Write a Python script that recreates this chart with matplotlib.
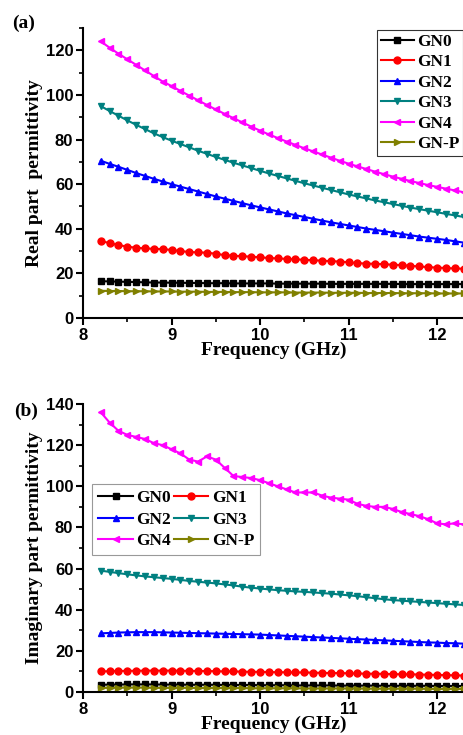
import matplotlib.pyplot as plt
import numpy as np
from matplotlib.ticker import MultipleLocator

# frequency sample points (GHz)
freq = np.round(np.arange(8.2, 12.35, 0.1), 1)

labels = ["GN0", "GN1", "GN2", "GN3", "GN4", "GN-P"]
colors = ["black", "red", "blue", "#008080", "#ff00ff", "#808000"]
markers = ["s", "o", "^", "v", "<", ">"]

# (a) real part permittivity
real_gn0 = [16.5, 16.4, 16.3, 16.2, 16.1, 16.0, 15.9, 15.9, 15.8,
            15.8, 15.7, 15.7, 15.6, 15.6, 15.6, 15.5, 15.5, 15.5, 15.5,
            15.5, 15.4, 15.4, 15.4, 15.4, 15.4, 15.4, 15.3, 15.3, 15.3,
            15.3, 15.3, 15.3, 15.3, 15.3, 15.2, 15.2, 15.2, 15.2, 15.2,
            15.2, 15.2, 15.2]
real_gn1 = [34.5, 33.6, 32.7, 32.0, 31.5, 31.2, 31.0, 30.9, 30.5,
            30.0, 29.6, 29.4, 29.3, 28.8, 28.2, 27.9, 27.7, 27.5, 27.2,
            26.9, 26.7, 26.5, 26.3, 26.1, 25.9, 25.7, 25.5, 25.3, 25.0,
            24.6, 24.4, 24.3, 24.1, 23.9, 23.7, 23.4, 23.1, 22.8, 22.6,
            22.4, 22.2, 22.1]
real_gn2 = [70.5, 69.1, 67.8, 66.4, 65.0, 63.7, 62.4, 61.2, 60.0,
            58.9, 57.8, 56.7, 55.6, 54.5, 53.5, 52.5, 51.5, 50.5, 49.6,
            48.7, 47.8, 46.9, 46.1, 45.3, 44.5, 43.7, 42.9, 42.2, 41.5,
            40.8, 40.1, 39.5, 38.9, 38.3, 37.7, 37.1, 36.5, 36.0, 35.5,
            35.0, 34.4, 33.8]
real_gn3 = [95.0, 92.8, 90.7, 88.6, 86.6, 84.7, 82.8, 81.1, 79.5,
            78.0, 76.5, 75.0, 73.6, 72.2, 70.9, 69.6, 68.4, 67.2, 66.0,
            64.8, 63.7, 62.6, 61.5, 60.4, 59.4, 58.4, 57.4, 56.4, 55.4,
            54.5, 53.6, 52.7, 51.9, 51.1, 50.3, 49.5, 48.8, 48.1, 47.4,
            46.7, 46.0, 45.3]
real_gn4 = [124.0, 121.2, 118.5, 116.0, 113.5, 111.0, 108.5, 106.0, 104.0,
            101.8, 99.7, 97.6, 95.5, 93.5, 91.5, 89.6, 87.7, 85.8, 84.0,
            82.3, 80.7, 79.1, 77.6, 76.1, 74.7, 73.3, 71.9, 70.5, 69.2,
            68.0, 66.8, 65.6, 64.5, 63.4, 62.4, 61.4, 60.5, 59.6, 58.8,
            58.0, 57.2, 56.4]
real_gnp = [12.2, 12.1, 12.1, 12.0, 12.0, 12.0, 11.9, 11.9, 11.9,
            11.8, 11.8, 11.8, 11.7, 11.7, 11.7, 11.6, 11.6, 11.6, 11.5,
            11.5, 11.5, 11.5, 11.4, 11.4, 11.4, 11.4, 11.3, 11.3, 11.3,
            11.3, 11.2, 11.2, 11.2, 11.2, 11.1, 11.1, 11.1, 11.1, 11.0,
            11.0, 11.0, 11.0]

# (b) imaginary part permittivity
imag_gn0 = [3.5, 3.6, 3.6, 3.7, 3.7, 3.7, 3.7, 3.6, 3.6,
            3.6, 3.5, 3.5, 3.5, 3.5, 3.4, 3.4, 3.4, 3.4, 3.3,
            3.3, 3.3, 3.3, 3.2, 3.2, 3.2, 3.2, 3.2, 3.1, 3.1,
            3.1, 3.1, 3.1, 3.0, 3.0, 3.0, 3.0, 3.0, 3.0, 2.9,
            2.9, 2.9, 2.9]
imag_gn1 = [10.0, 10.1, 10.2, 10.3, 10.3, 10.4, 10.4, 10.4, 10.4,
            10.3, 10.3, 10.2, 10.2, 10.1, 10.0, 10.0, 9.9, 9.8, 9.8,
            9.7, 9.6, 9.6, 9.5, 9.5, 9.4, 9.3, 9.2, 9.2, 9.1,
            9.0, 8.9, 8.9, 8.8, 8.7, 8.6, 8.6, 8.5, 8.4, 8.3,
            8.2, 8.1, 8.0]
imag_gn2 = [28.5, 28.7, 28.9, 29.0, 29.1, 29.1, 29.1, 29.0, 28.9,
            28.8, 28.7, 28.6, 28.5, 28.4, 28.3, 28.2, 28.1, 28.0, 27.9,
            27.7, 27.5, 27.3, 27.1, 26.9, 26.7, 26.5, 26.3, 26.1, 25.9,
            25.7, 25.5, 25.3, 25.1, 24.9, 24.7, 24.5, 24.3, 24.1, 24.0,
            23.8, 23.7, 23.5]
imag_gn3 = [59.0, 58.4, 57.8, 57.2, 56.7, 56.2, 55.8, 55.4, 55.0,
            54.5, 54.0, 53.6, 53.2, 52.8, 52.3, 51.8, 51.2, 50.7, 50.3,
            49.9, 49.5, 49.2, 48.9, 48.7, 48.4, 48.1, 47.8, 47.4, 47.0,
            46.6, 46.1, 45.6, 45.1, 44.7, 44.4, 44.1, 43.8, 43.5, 43.2,
            42.9, 42.6, 42.3]
imag_gn4 = [136.0, 131.0, 127.0, 125.0, 124.0, 123.0, 121.0, 120.0, 118.0,
            116.0, 113.0, 112.0, 114.5, 113.0, 109.0, 105.0, 104.5, 104.0, 103.0,
            101.5, 100.0, 98.5, 97.0, 97.0, 97.0, 95.5, 94.5, 94.0, 93.5,
            91.5, 90.5, 90.0, 90.0, 89.0, 87.5, 86.5, 85.5, 84.0, 82.0,
            81.5, 82.0, 81.5]
imag_gnp = [2.0, 2.0, 2.1, 2.1, 2.1, 2.1, 2.0, 2.0, 2.0,
            2.0, 2.0, 1.9, 1.9, 1.9, 1.9, 1.9, 1.9, 1.8, 1.8,
            1.8, 1.8, 1.8, 1.8, 1.7, 1.7, 1.7, 1.7, 1.7, 1.7,
            1.7, 1.6, 1.6, 1.6, 1.6, 1.6, 1.6, 1.6, 1.5, 1.5,
            1.5, 1.5, 1.5]

real_series = [real_gn0, real_gn1, real_gn2, real_gn3, real_gn4, real_gnp]
imag_series = [imag_gn0, imag_gn1, imag_gn2, imag_gn3, imag_gn4, imag_gnp]

serif = "Liberation Serif"
sans = "Liberation Sans"

fig = plt.figure(figsize=(4.64, 7.35), dpi=100)
ax1 = fig.add_axes([83 / 464, 417 / 735, 381 / 464, 290 / 735])
ax2 = fig.add_axes([83 / 464, 43 / 735, 381 / 464, 288 / 735])


def style_axes(ax, ymax, ylabel):
    ax.set_xlim(8, 12.305)
    ax.set_ylim(0, ymax)
    ax.spines["top"].set_visible(False)
    ax.spines["right"].set_visible(False)
    for s in ("left", "bottom"):
        ax.spines[s].set_linewidth(1.5)
    ax.xaxis.set_major_locator(MultipleLocator(1))
    ax.xaxis.set_minor_locator(MultipleLocator(0.5))
    ax.yaxis.set_major_locator(MultipleLocator(20))
    ax.yaxis.set_minor_locator(MultipleLocator(10))
    ax.tick_params(which="major", direction="out", length=5, width=1.5,
                   pad=2)
    ax.tick_params(which="minor", direction="out", length=3, width=1.2)
    for lab in ax.get_xticklabels() + ax.get_yticklabels():
        lab.set_fontfamily(sans)
        lab.set_fontweight("bold")
        lab.set_fontsize(12)
    ax.set_xlabel("Frequency (GHz)", family=serif, weight="bold",
                  fontsize=14, labelpad=-1)
    ax.set_ylabel(ylabel, family=serif, weight="bold", fontsize=14,
                  labelpad=2)


for ys, lab, c, m in zip(real_series, labels, colors, markers):
    ax1.plot(freq, ys, color=c, marker=m, ms=5, lw=1.5, label=lab)
for ys, lab, c, m in zip(imag_series, labels, colors, markers):
    ax2.plot(freq, ys, color=c, marker=m, ms=5, lw=1.5, label=lab)

style_axes(ax1, 130, "Real part  permittivity")
style_axes(ax2, 140, "Imaginary part permittivity")

leg_font = {"family": serif, "weight": "bold", "size": 12.5}
leg1 = ax1.legend(loc="upper left", bbox_to_anchor=(0.772, 0.993),
                  prop=leg_font, frameon=True, fancybox=False,
                  edgecolor="black", handlelength=1.9, handletextpad=0.2,
                  labelspacing=0.25, borderpad=0.2, borderaxespad=0)
leg1.get_frame().set_linewidth(0.8)

# row-wise order for the two-column legend
h, l = ax2.get_legend_handles_labels()
order = [0, 2, 4, 1, 3, 5]
leg2 = ax2.legend([h[i] for i in order], [l[i] for i in order],
                  loc="upper left", bbox_to_anchor=(0.024, 0.722), ncol=2,
                  prop=leg_font, frameon=True, fancybox=False,
                  edgecolor="gray", handlelength=2.0, handletextpad=0.2,
                  labelspacing=0.3, columnspacing=0.15, borderpad=0.35,
                  borderaxespad=0)
leg2.get_frame().set_linewidth(0.8)

fig.text(12 / 464, 1 - 23 / 735, "(a)", family=serif, weight="bold",
         fontsize=14, va="center", ha="left")
fig.text(14 / 464, 1 - 411 / 735, "(b)", family=serif, weight="bold",
         fontsize=14, va="center", ha="left")

fig.savefig("out.png", dpi=100)
